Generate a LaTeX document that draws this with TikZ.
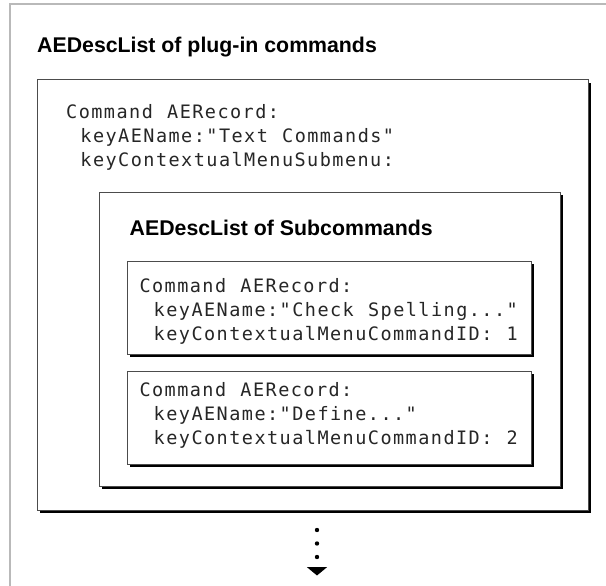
\documentclass[tikz,border=0pt]{standalone}
\usepackage{fontspec}
\usepackage{tikz}
\usetikzlibrary{positioning,arrows.meta,shadows}
\newfontfamily\headfont{Liberation Sans}
\newfontfamily\codefont{DejaVu Sans Mono}[LetterSpace=7.9,WordSpace=1.13]

\begin{document}
\begin{tikzpicture}[x=1pt, y=-1pt,
  box/.style={draw=black!70, line width=1pt, fill=white, inner sep=0pt, outer sep=0pt, anchor=north west,
    drop shadow={shadow xshift=3pt, shadow yshift=-3pt, fill=black, opacity=1}},
  heading/.style={font=\headfont\bfseries\fontsize{21.3}{24}\selectfont, anchor=base west, inner sep=0pt},
  code/.style={font=\codefont\fontsize{18.5}{24}\selectfont, text=black!85, anchor=base west, inner sep=0pt}]
\useasboundingbox (0,0) rectangle (606,586);
\def\codestep{24}

% Page frame (cut off right and below)
\draw[gray!55, line width=2pt] (10,586) -- (10,4) -- (606,4);

% Outer list
\node[heading] (list title) at (37,52.5) {AEDescList of plug-in commands};
\node[box, minimum width=551pt, minimum height=430pt] (list) at (37,80) {};
\node[code] (cmd a) at (66,118.5) {Command AERecord:};
\node[code] (cmd a name) at (66,118.5+\codestep) {~keyAEName:"Text Commands"};
\node[code] (cmd a sub) at (66,118.5+2*\codestep) {~keyContextualMenuSubmenu:};

% Sub list
\node[box, minimum width=461pt, minimum height=294pt] (sublist) at (99,192) {};
\node[heading] (sublist title) at (129.5,235) {AEDescList of Subcommands};

% Record 1
\node[box, minimum width=404pt, minimum height=93pt] (rec one) at (127,261) {};
\node[code] (rec one cmd) at (139.3,292) {Command AERecord:};
\node[code] (rec one name) at (139.3,292+\codestep) {~keyAEName:"Check Spelling..."};
\node[code] (rec one id) at (139.3,292+2*\codestep) {~keyContextualMenuCommandID: 1};

% Record 2
\node[box, minimum width=404pt, minimum height=93pt] (rec two) at (127,371) {};
\node[code] (rec two cmd) at (139.3,396) {Command AERecord:};
\node[code] (rec two name) at (139.3,396+\codestep) {~keyAEName:"Define..."};
\node[code] (rec two id) at (139.3,396+2*\codestep) {~keyContextualMenuCommandID: 2};

% More entries follow
\coordinate (more top) at (317,530);
\coordinate (more end) at (317,575.5);
\draw[line width=4.4pt, line cap=round, dash pattern=on 0pt off 13.5pt,
  -{Triangle[length=8.5pt, width=20pt, line cap=butt]}] (more top) -- (more end);

\end{tikzpicture}
\end{document}
